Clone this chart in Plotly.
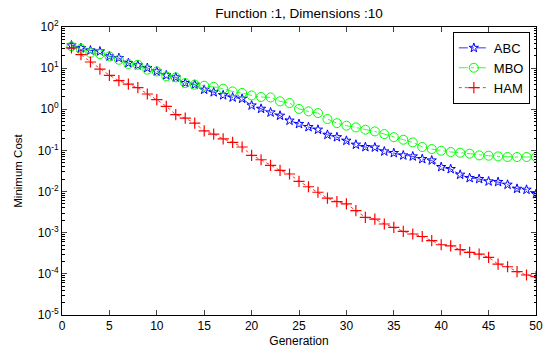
import plotly.graph_objects as go

generation = list(range(1, 51))

abc = [35.7, 30.8, 27.0, 25.5, 19.3, 17.6, 13.3, 11.7, 10.1, 8.3,
       6.7, 5.96, 4.35, 3.96, 2.99, 2.6, 2.2, 1.94, 1.81, 1.24,
       1.03, 0.84, 0.70, 0.53, 0.44, 0.37, 0.32, 0.24, 0.21, 0.172,
       0.138, 0.121, 0.118, 0.0946, 0.0865, 0.0757, 0.0716, 0.0618, 0.0571, 0.0395,
       0.0353, 0.0257, 0.0214, 0.0202, 0.0177, 0.0171, 0.0147, 0.0117, 0.0111, 0.0087]

mbo = [33.8, 29.6, 23.5, 22.0, 19.3, 16.0, 12.6, 12.1, 9.2, 8.3,
       6.3, 5.96, 4.35, 3.96, 3.74, 3.5, 3.16, 2.72, 2.49, 2.17,
       1.99, 1.94, 1.56, 1.42, 1.02, 0.89, 0.81, 0.58, 0.46, 0.40,
       0.363, 0.319, 0.29, 0.25, 0.21, 0.182, 0.157, 0.121, 0.108, 0.0985,
       0.0916, 0.088, 0.0832, 0.0757, 0.0744, 0.0716, 0.0692, 0.0692, 0.0692, 0.0692]

ham = [31.0, 21.2, 14.1, 9.5, 6.7, 4.95, 4.1, 3.35, 2.35, 1.71,
       1.18, 0.74, 0.61, 0.46, 0.30, 0.25, 0.19, 0.157, 0.121, 0.0757,
       0.0594, 0.0432, 0.0327, 0.0267, 0.0177, 0.0131, 0.00964, 0.0069, 0.00567, 0.00501,
       0.00343, 0.00236, 0.00215, 0.00163, 0.00135, 0.00108, 0.00093, 0.00081, 0.00064, 0.00051,
       0.00048, 0.000386, 0.000332, 0.000303, 0.000251, 0.000173, 0.000149, 0.000113, 0.0000937, 0.0000853]

y_tick_vals = [1e-5, 1e-4, 1e-3, 1e-2, 1e-1, 1, 10, 100]
y_tick_text = ["10<sup>-5</sup>", "10<sup>-4</sup>", "10<sup>-3</sup>", "10<sup>-2</sup>",
               "10<sup>-1</sup>", "10<sup>0</sup>", "10<sup>1</sup>", "10<sup>2</sup>"]
x_tick_vals = [0, 5, 10, 15, 20, 25, 30, 35, 40, 45, 50]
y_minor_vals = [m * 10.0 ** e for e in range(-5, 2) for m in range(2, 10)]

FONT = "Liberation Sans, Arial, sans-serif"

fig = go.Figure()
fig.add_trace(go.Scatter(
    x=generation, y=abc, name="ABC", mode="lines+markers",
    line=dict(color="#0000ff", width=0.8, dash="dashdot"),
    marker=dict(symbol="star-open", size=7, color="#0000ff", line=dict(width=1, color="#0000ff"))))
fig.add_trace(go.Scatter(
    x=generation, y=mbo, name="MBO", mode="lines+markers",
    line=dict(color="#00ff00", width=0.8, dash="dashdot"),
    marker=dict(symbol="circle-open", size=9, color="#00ff00", line=dict(width=1, color="#00ff00"))))
fig.add_trace(go.Scatter(
    x=generation, y=ham, name="HAM", mode="lines+markers",
    line=dict(color="#ff0000", width=0.8, dash="dot"),
    marker=dict(symbol="cross-thin-open", size=8, color="#ff0000", line=dict(width=1.2, color="#ff0000"))))

fig.update_layout(
    width=544, height=353,
    margin=dict(l=62, r=8, t=27, b=38, autoexpand=False),
    paper_bgcolor="white", plot_bgcolor="white",
    font=dict(family=FONT, size=12, color="black"),
    title=dict(text="Function :1, Dimensions :10", xref="paper", x=0.5, xanchor="center",
               y=0.963, yanchor="middle", font=dict(family=FONT, size=13.5)),
    showlegend=True,
    legend=dict(x=0.987, xanchor="right", y=0.983, yanchor="top",
                bgcolor="white", bordercolor="black", borderwidth=1,
                font=dict(family=FONT, size=13), tracegroupgap=0),
)
fig.update_xaxes(
    range=[0, 50], tickvals=x_tick_vals, ticks="inside", ticklen=5,
    showline=True, linecolor="black", linewidth=1, mirror="ticks",
    showgrid=False, zeroline=False, tickfont=dict(size=12),
    title=dict(text="Generation", font=dict(family=FONT, size=12), standoff=4),
)
fig.update_yaxes(
    type="log", range=[-5, 2], tickvals=y_tick_vals, ticktext=y_tick_text,
    ticks="inside", ticklen=5,
    showline=True, linecolor="black", linewidth=1, mirror="ticks",
    showgrid=False, zeroline=False, tickfont=dict(size=12),
    minor=dict(tickvals=y_minor_vals, ticks="inside", ticklen=2.5, tickcolor="black", showgrid=False),
    title=dict(text="Minimum Cost", font=dict(family=FONT, size=11.5), standoff=12),
)

fig.write_html("out.html", config={"displayModeBar": False},
               post_script="document.body.style.margin='0px';")
